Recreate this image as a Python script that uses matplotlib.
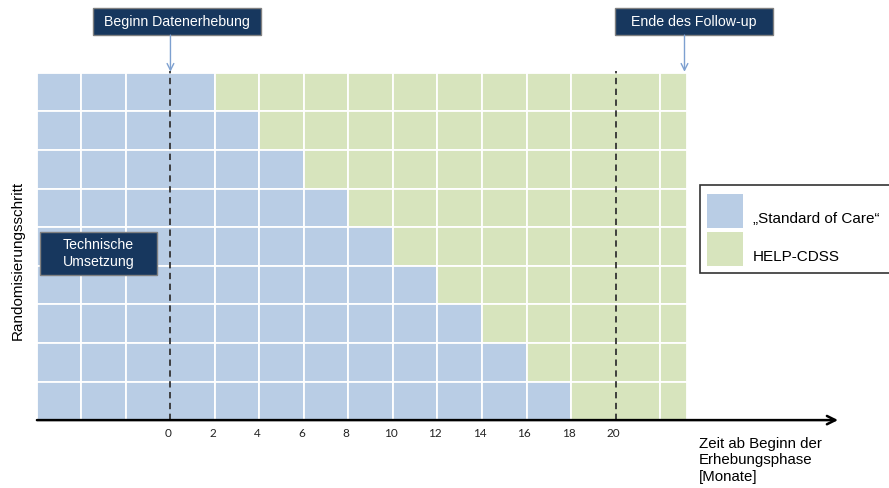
import matplotlib.pyplot as plt
from matplotlib.patches import Rectangle

plt.rcParams['font.family'] = ['Liberation Sans', 'DejaVu Sans']

# Zellgrenzen auf der Zeitachse (Monate ab Beginn der Erhebungsphase)
col_edges = [-6, -4, -2, 2, 4, 6, 8, 10, 12, 14, 16, 18, 22, 23.2]
# Wechsel von "Standard of Care" zu HELP-CDSS je Randomisierungsschritt (oben -> unten)
switch_month = [2, 4, 6, 8, 10, 12, 14, 16, 18]
tick_months = [0, 2, 4, 6, 8, 10, 12, 14, 16, 18, 20]
start_month = 0
followup_month = 20
end_month = 23.2
legend_labels = ['\u201eStandard of Care\u201c', 'HELP-CDSS']

blue = '#B9CDE5'
green = '#D7E4BD'
navy = '#17375E'
arrow_blue = '#7DA0D0'

n_rows = len(switch_month)

fig = plt.figure(figsize=(8.89, 4.88), dpi=100)
ax = fig.add_axes([0, 0, 1, 1])
ax.set_xlim(-7.66, 32.29)
ax.set_ylim(-1.76, 10.89)
ax.axis('off')

# Raster der Cluster-Perioden
for i, sw in enumerate(switch_month):
    y0 = n_rows - 1 - i
    for a, b in zip(col_edges[:-1], col_edges[1:]):
        c = blue if b <= sw else green
        ax.add_patch(Rectangle((a, y0), b - a, 1, facecolor=c,
                               edgecolor='white', lw=1.3))

# gestrichelte Linien: Beginn Datenerhebung / Ende Follow-up
ax.vlines([start_month, followup_month], 0, n_rows + 0.05, colors='#333333',
          linestyles=(0, (3.5, 2.5)), lw=1.3)

# Zeitachse mit Pfeil
ax.annotate('', xy=(30.0, 0), xytext=(col_edges[0], 0),
            arrowprops=dict(arrowstyle='->', lw=1.8, color='black',
                            mutation_scale=15, shrinkA=0, shrinkB=0))
for m in tick_months:
    ax.text(m - 0.1, -0.34, str(m), ha='center', va='center', fontsize=8.5,
            family=['Lato', 'DejaVu Sans'], color='#222222')

ax.text(23.75, -0.43, 'Zeit ab Beginn der\nErhebungsphase\n[Monate]',
        ha='left', va='top', fontsize=10.8, linespacing=1.22)
ax.text(-6.85, 4.15, 'Randomisierungsschritt', rotation=90,
        ha='center', va='center', fontsize=11)


def label_box(x0, x1, y0, y1, text):
    ax.add_patch(Rectangle((x0, y0), x1 - x0, y1 - y0, facecolor=navy,
                           edgecolor='#808080', lw=1))
    ax.text((x0 + x1) / 2, (y0 + y1) / 2, text, ha='center', va='center',
            color='white', fontsize=10.2, linespacing=1.2)


label_box(-3.48, 4.07, 9.98, 10.68, 'Beginn Datenerhebung')
label_box(19.98, 27.08, 9.98, 10.68, 'Ende des Follow-up')
label_box(-5.87, -0.61, 3.76, 4.88, 'Technische\nUmsetzung')

for xm in [start_month, end_month - 0.1]:
    ax.annotate('', xy=(xm, n_rows + 0.03), xytext=(xm, 9.98),
                arrowprops=dict(arrowstyle='->', lw=1, color=arrow_blue,
                                mutation_scale=12, shrinkA=0, shrinkB=0))

# Legende
ax.add_patch(Rectangle((23.8, 3.81), 9.0, 2.28, facecolor='white',
                       edgecolor='#333333', lw=1.2))
for k, (c, lab) in enumerate(zip([blue, green], legend_labels)):
    yb = 4.98 - k * 0.99
    ax.add_patch(Rectangle((24.1, yb), 1.63, 0.88, facecolor=c, edgecolor='none'))
    ax.text(26.18, yb + 0.24, lab, ha='left', va='center', fontsize=11)

fig.savefig('out.png', dpi=100)
